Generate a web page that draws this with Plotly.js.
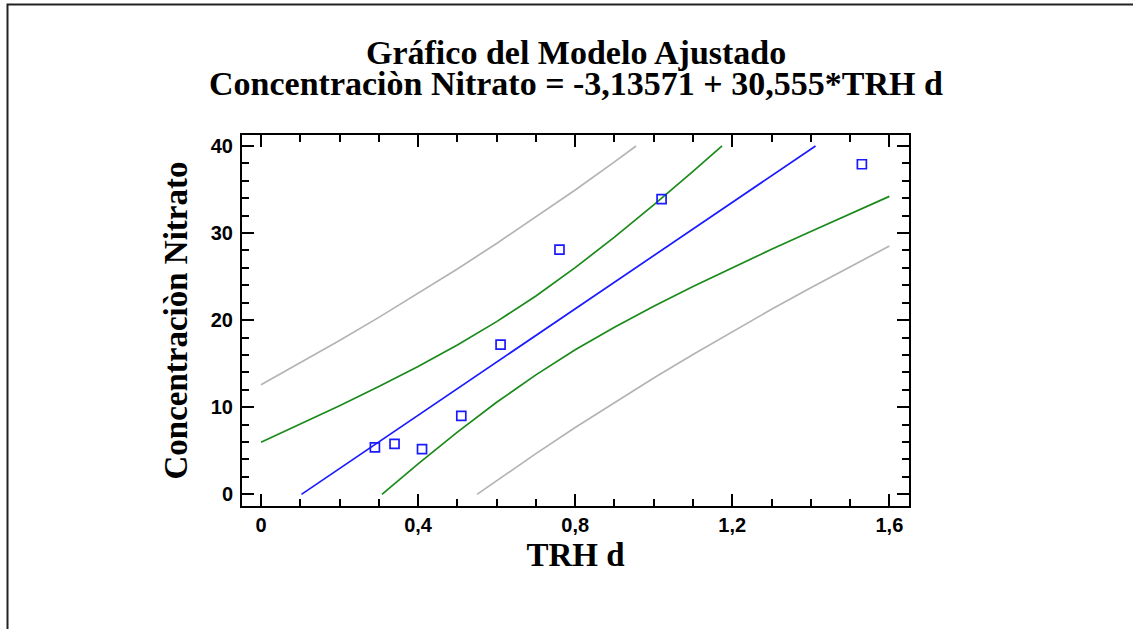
<!DOCTYPE html>
<html>
<head>
<meta charset="utf-8">
<script src="https://cdn.plot.ly/plotly-3.0.1.min.js"></script>
<style>
  html, body { margin: 0; padding: 0; background: #ffffff; }
  #chart { width: 1133px; height: 629px; }
</style>
</head>
<body>
<div id="chart"></div>
<script>
// Observed data (TRH d vs Concentración Nitrato)
const obsX = [0.29, 0.34, 0.41, 0.51, 0.61, 0.76, 1.02, 1.53];
const obsY = [5.4, 5.8, 5.2, 9.0, 17.2, 28.1, 33.9, 37.9];

// Fitted line
const fitX = [0.103, 0.2, 0.3, 0.4, 0.5, 0.6, 0.7, 0.8, 0.9, 1.0, 1.1, 1.2, 1.3, 1.4, 1.412];
const fitY = [0, 2.97, 6.03, 9.09, 12.14, 15.20, 18.25, 21.31, 24.36, 27.42, 30.47, 33.53, 36.59, 39.64, 40];

// Confidence limits (green)
const confUpX = [0, 0.1, 0.2, 0.3, 0.4, 0.5, 0.6, 0.7, 0.8, 0.9, 1.0, 1.1, 1.174];
const confUpY = [5.99, 8.06, 10.18, 12.38, 14.69, 17.14, 19.83, 22.78, 26.03, 29.53, 33.24, 37.08, 40];
const confLoX = [0.308, 0.4, 0.5, 0.6, 0.7, 0.8, 0.9, 1.0, 1.1, 1.2, 1.3, 1.4, 1.5, 1.6];
const confLoY = [0, 3.49, 7.14, 10.57, 13.72, 16.59, 19.19, 21.60, 23.86, 26.03, 28.14, 30.19, 32.21, 34.21];

// Prediction limits (gray)
const predUpX = [0, 0.1, 0.2, 0.3, 0.4, 0.5, 0.6, 0.7, 0.8, 0.9, 0.955];
const predUpY = [12.58, 15.09, 17.66, 20.32, 23.06, 25.88, 28.81, 31.83, 34.95, 38.17, 40];
const predLoX = [0.550, 0.6, 0.7, 0.8, 0.9, 1.0, 1.1, 1.2, 1.3, 1.4, 1.5, 1.6];
const predLoY = [0, 1.59, 4.67, 7.67, 10.55, 13.36, 16.06, 18.69, 21.25, 23.73, 26.15, 28.51];

const titleLine1 = "Gráfico del Modelo Ajustado";
const titleLine2 = "Concentraciòn Nitrato = -3,13571 + 30,555*TRH d";
const xTitle = "TRH d";
const yTitle = "Concentraciòn Nitrato";

const serif = "Liberation Serif, Times New Roman, serif";
const sans = "Liberation Sans, Arial, sans-serif";

function line(x, y, color) {
  return { x: x, y: y, type: 'scatter', mode: 'lines', hoverinfo: 'skip',
           line: { color: color, width: 1.7 }, showlegend: false };
}

const traces = [
  line(predUpX, predUpY, '#b4b4b4'),
  line(predLoX, predLoY, '#b4b4b4'),
  line(confUpX, confUpY, '#1a8a1a'),
  line(confLoX, confLoY, '#1a8a1a'),
  line(fitX, fitY, '#1a1aff'),
  { x: obsX, y: obsY, type: 'scatter', mode: 'markers', showlegend: false,
    marker: { symbol: 'square-open', size: 9, color: '#1a1aff', line: { width: 1.7, color: '#1a1aff' } } }
];

// plot area pixels: x 242..909, y 135..506
const L = 242, R = 909, T = 135, B = 506;
const W = R - L, H = B - T;
function px(X) { return (X - L) / W; }
function py(Y) { return (B - Y) / H; }

const axisCommon = {
  showline: true, linewidth: 2, linecolor: '#000',
  mirror: 'ticks', ticks: 'inside', ticklen: 12, tickwidth: 2, tickcolor: '#000',
  showgrid: false, zeroline: false,
  tickfont: { family: sans, size: 20, color: '#000', weight: 'bold' }
};

const layout = {
  width: 1133, height: 629,
  margin: { l: L, r: 1133 - R, t: T, b: 629 - B },
  paper_bgcolor: '#ffffff', plot_bgcolor: '#ffffff',
  separators: ',.',
  showlegend: false,
  xaxis: Object.assign({}, axisCommon, {
    range: [-0.0484, 1.650], tick0: 0, dtick: 0.4,
    minor: { dtick: 0.1, tick0: 0, ticks: 'inside', ticklen: 7, tickwidth: 2, tickcolor: '#000' },
    title: { text: xTitle, standoff: 8, font: { family: serif, size: 33, color: '#000', weight: 'bold' } }
  }),
  yaxis: Object.assign({}, axisCommon, {
    range: [-1.34, 41.26], tick0: 0, dtick: 10, ticklabelstandoff: 3,
    minor: { dtick: 2, tick0: 0, ticks: 'inside', ticklen: 7, tickwidth: 2, tickcolor: '#000' },
    title: { text: yTitle, standoff: 13, font: { family: serif, size: 33, color: '#000', weight: 'bold' } }
  }),
  annotations: [
    { text: titleLine1, xref: 'paper', yref: 'paper', x: 0.5, y: py(53), xanchor: 'center', yanchor: 'middle',
      showarrow: false, font: { family: serif, size: 34, color: '#000', weight: 'bold' } },
    { text: titleLine2, xref: 'paper', yref: 'paper', x: 0.5, y: py(83), xanchor: 'center', yanchor: 'middle',
      showarrow: false, font: { family: serif, size: 34, color: '#000', weight: 'bold' } }
  ],
  shapes: [
    { type: 'rect', xref: 'paper', yref: 'paper', x0: px(7.5), x1: px(1150), y0: py(650), y1: py(4.5),
      line: { color: '#222', width: 2 }, fillcolor: 'rgba(0,0,0,0)' }
  ]
};

Plotly.newPlot('chart', traces, layout, { staticPlot: true, displayModeBar: false });
</script>
</body>
</html>
